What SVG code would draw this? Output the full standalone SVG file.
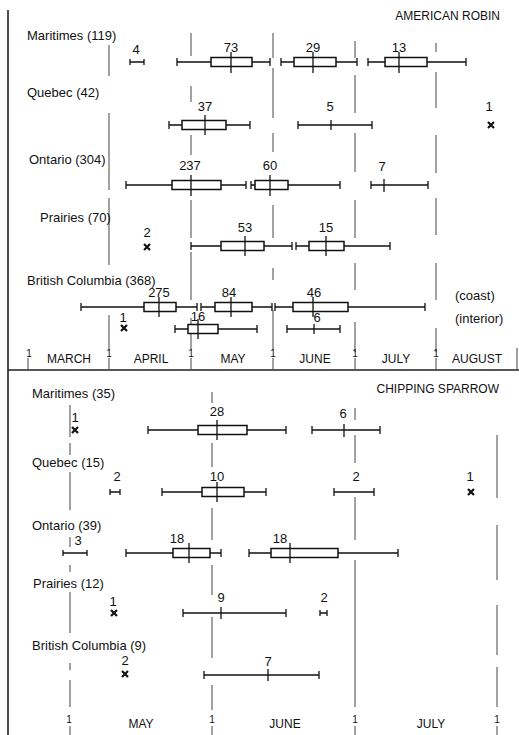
<svg xmlns="http://www.w3.org/2000/svg" width="519" height="735" viewBox="0 0 519 735">
<style>
text{font-family:"Liberation Sans",Arial,sans-serif;fill:#111}
.lb{font-size:13px}
.n{font-size:13px;text-anchor:middle}
.t{font-size:12px}
.m{font-size:12px;text-anchor:middle}
.o{font-size:10px;text-anchor:middle}
.frame{stroke:#222;stroke-width:1.6;fill:none}
.ml{stroke:#444;stroke-width:1;fill:none}
.w{stroke:#111;stroke-width:1.3;fill:none}
.b{stroke:#111;stroke-width:1.5;fill:#fff}
.x{stroke:#111;stroke-width:2.2;fill:none}
</style>
<rect width="519" height="735" fill="#fff"/>
<g id="frame">
<path class="frame" d="M8 10V735M8 370H519"/>
<path class="ml" d="M517 348V370"/>
</g>
<g id="month-lines">
<path class="ml" d="M109 45V76M109 113V190M109 198V265M109 315V350"/>
<path class="ml" d="M191 33V56M191 86V102M191 135V155M191 200V238M191 252V300M191 318V350"/>
<path class="ml" d="M273 33V58M273 68V118M273 133V152M273 205V238M273 268V280M273 310V350"/>
<path class="ml" d="M355 41V58M355 75V113M355 133V172M355 200V238M355 263V290M355 322V352"/>
<path class="ml" d="M436 43V52M436 72V108M436 135V173M436 198V235M436 263V300M436 328V352"/>
<path class="ml" d="M70 405V437M70 443V455M70 472V510M70 537V547M70 565V572M70 592V633M70 663V670M70 680V707"/>
<path class="ml" d="M212 392V403M212 443V467M212 508V540M212 565V595M212 617V658M212 685V710"/>
<path class="ml" d="M355 408V420M355 435V463M355 497V540M355 560V707"/>
<path class="ml" d="M497 435V498M497 525V580M497 605V655M497 667V707"/>
</g>
<g id="axis-top">
<path class="ml" d="M28 358V370M109 358V370M191 358V370M273 358V370M355 358V370M436 358V370"/>
<text class="o" x="29" y="357">1</text><text class="o" x="109" y="357">1</text><text class="o" x="191" y="357">1</text><text class="o" x="273" y="357">1</text><text class="o" x="355" y="357">1</text><text class="o" x="436" y="357">1</text>
<text class="m" x="69" y="363">MARCH</text><text class="m" x="151" y="363">APRIL</text><text class="m" x="233" y="363">MAY</text><text class="m" x="315" y="363">JUNE</text><text class="m" x="396" y="363">JULY</text><text class="m" x="477" y="363">AUGUST</text>
</g>
<g id="axis-bottom">
<path class="ml" d="M70 726V735M212 726V735M355 726V735M497 726V735"/>
<text class="o" x="69" y="723">1</text><text class="o" x="212" y="723">1</text><text class="o" x="355" y="723">1</text><text class="o" x="497" y="723">1</text>
<text class="m" x="141" y="728">MAY</text><text class="m" x="285" y="728">JUNE</text><text class="m" x="431" y="728">JULY</text>
</g>
<g id="title-robin"><text class="t" x="500" y="20" text-anchor="end">AMERICAN ROBIN</text></g>
<g id="title-sparrow"><text class="t" x="499" y="393" text-anchor="end">CHIPPING SPARROW</text></g>

<g id="robin-maritimes">
<text class="lb" x="27" y="40">Maritimes (119)</text>
<path class="w" d="M130 62H144M130 59V65M144 59V65"/><text class="n" x="136" y="54">4</text>
<path class="w" d="M177 62H270M177 58V66M270 58V66"/><rect class="b" x="211" y="57.5" width="41" height="9"/><path class="w" d="M231 52V73"/><text class="n" x="231" y="52">73</text>
<path class="w" d="M281 62H357M281 58V66M357 58V66"/><rect class="b" x="294" y="57.5" width="42" height="9"/><path class="w" d="M313 52V73"/><text class="n" x="313" y="52">29</text>
<path class="w" d="M368 62H466M368 58V66M466 58V66"/><rect class="b" x="385" y="57.5" width="42" height="9"/><path class="w" d="M399 52V73"/><text class="n" x="399" y="52">13</text>
</g>
<g id="robin-quebec">
<text class="lb" x="27" y="97">Quebec (42)</text>
<path class="w" d="M169 125H250M169 121V129M250 121V129"/><rect class="b" x="182" y="120.5" width="44" height="9"/><path class="w" d="M205 115V135"/><text class="n" x="205" y="111">37</text>
<path class="w" d="M298 125H372M298 121V129M372 121V129M331 120V130"/><text class="n" x="330" y="111">5</text>
<path class="x" d="M488 122L494 128M494 122L488 128"/><text class="n" x="489" y="111">1</text>
</g>
<g id="robin-ontario">
<text class="lb" x="29" y="164">Ontario (304)</text>
<path class="w" d="M126 185H246M126 181V189M246 181V189"/><rect class="b" x="172" y="180.5" width="49" height="9"/><path class="w" d="M191 175V196"/><text class="n" x="190" y="170">237</text>
<path class="w" d="M251 185H340M251 181V189M340 181V189"/><rect class="b" x="255" y="180.5" width="33" height="9"/><path class="w" d="M270 175V196"/><text class="n" x="270" y="170">60</text>
<path class="w" d="M371 185H428M371 181V189M428 181V189M384 179V192"/><text class="n" x="382" y="171">7</text>
</g>
<g id="robin-prairies">
<text class="lb" x="40" y="222">Prairies (70)</text>
<path class="x" d="M144 244L150 250M150 244L144 250"/><text class="n" x="147" y="237">2</text>
<path class="w" d="M191 246H292M191 242V250M292 242V250"/><rect class="b" x="221" y="241.5" width="43" height="9"/><path class="w" d="M245 236V256"/><text class="n" x="245" y="232">53</text>
<path class="w" d="M296 246H390M296 242V250M390 242V250"/><rect class="b" x="309" y="241.5" width="35" height="9"/><path class="w" d="M326 236V256"/><text class="n" x="326" y="232">15</text>
</g>
<g id="robin-bc">
<text class="lb" x="27" y="285">British Columbia (368)</text>
<path class="w" d="M81 307H197M81 303V311M197 303V311"/><rect class="b" x="144" y="302.5" width="32" height="9"/><path class="w" d="M159 297V317"/><text class="n" x="159" y="297">275</text>
<path class="w" d="M201 307H272M201 303V311M272 303V311"/><rect class="b" x="215" y="302.5" width="37" height="9"/><path class="w" d="M231 297V317"/><text class="n" x="229" y="297">84</text>
<path class="w" d="M275 307H425M275 303V311M425 303V311"/><rect class="b" x="293" y="302.5" width="55" height="9"/><path class="w" d="M313 297V317"/><text class="n" x="314" y="297">46</text>
<text class="lb" x="455" y="300">(coast)</text>
<path class="x" d="M121 325L127 331M127 325L121 331"/><text class="n" x="123" y="322">1</text>
<path class="w" d="M175 329H257M175 325V333M257 325V333"/><rect class="b" x="188" y="324.5" width="30" height="9"/><path class="w" d="M198 319V339"/><text class="n" x="198" y="321">16</text>
<path class="w" d="M287 329H340M287 325V333M340 325V333M314 324V334"/><text class="n" x="317" y="322">6</text>
<text class="lb" x="455" y="323">(interior)</text>
</g>

<g id="sparrow-maritimes">
<text class="lb" x="32" y="398">Maritimes (35)</text>
<path class="x" d="M72 427L78 433M78 427L72 433"/><text class="n" x="75" y="422">1</text>
<path class="w" d="M148 430H286M148 426V434M286 426V434"/><rect class="b" x="198" y="425.5" width="49" height="9"/><path class="w" d="M217 420V440"/><text class="n" x="217" y="416">28</text>
<path class="w" d="M312 430H380M312 426V434M380 426V434M344 424V437" stroke-width="2"/><text class="n" x="343" y="418">6</text>
</g>
<g id="sparrow-quebec">
<text class="lb" x="32" y="467">Quebec (15)</text>
<path class="w" d="M110 492H120M110 489V495M120 489V495"/><text class="n" x="117" y="481">2</text>
<path class="w" d="M162 492H266M162 488V496M266 488V496"/><rect class="b" x="202" y="487.5" width="42" height="9"/><path class="w" d="M217 482V502"/><text class="n" x="217" y="481">10</text>
<path class="w" d="M334 492H374M334 488V496M374 488V496"/><text class="n" x="356" y="481">2</text>
<path class="x" d="M468 489L474 495M474 489L468 495"/><text class="n" x="470" y="481">1</text>
</g>
<g id="sparrow-ontario">
<text class="lb" x="32" y="530">Ontario (39)</text>
<path class="w" d="M63 553H87M63 550V556M87 550V556"/><text class="n" x="78" y="545">3</text>
<path class="w" d="M126 553H221M126 549V557M221 549V557"/><rect class="b" x="173" y="548.5" width="37" height="9"/><path class="w" d="M189 543V563"/><text class="n" x="177" y="543">18</text>
<path class="w" d="M249 553H398M249 549V557M398 549V557"/><rect class="b" x="271" y="548.5" width="67" height="9"/><path class="w" d="M290 543V563"/><text class="n" x="280" y="543">18</text>
</g>
<g id="sparrow-prairies">
<text class="lb" x="33" y="588">Prairies (12)</text>
<path class="x" d="M111 610L117 616M117 610L111 616"/><text class="n" x="113" y="606">1</text>
<path class="w" d="M183 613H286M183 609V617M286 609V617M221 607V619"/><text class="n" x="221" y="602">9</text>
<path class="w" d="M320 613H327M320 610V616M327 610V616"/><text class="n" x="324" y="602">2</text>
</g>
<g id="sparrow-bc">
<text class="lb" x="32" y="650">British Columbia (9)</text>
<path class="x" d="M122 671L128 677M128 671L122 677"/><text class="n" x="125" y="665">2</text>
<path class="w" d="M204 675H319M204 671V679M319 671V679M268 669V681"/><text class="n" x="268" y="666">7</text>
</g>
</svg>
